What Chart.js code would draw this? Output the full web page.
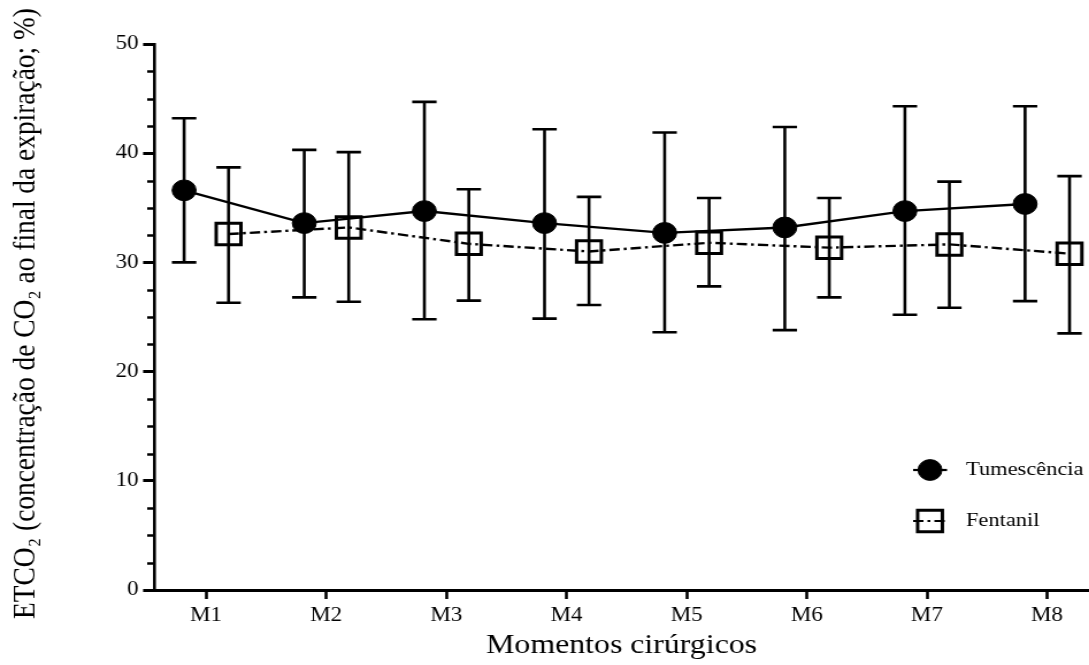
<!DOCTYPE html>
<html>
<head>
<meta charset="utf-8">
<title>ETCO2 - Momentos cirúrgicos</title>
<script src="https://cdn.jsdelivr.net/npm/chart.js@4.4.1/dist/chart.umd.min.js"></script>
<style>
  html, body { margin: 0; padding: 0; background: #fff; overflow: hidden; }
  /* the original figure is a little wider than tall in its lettering, so the drawing is stretched sideways */
  canvas { display: block; transform: scaleX(1.15); transform-origin: 0 0; }
</style>
</head>
<body>
<canvas id="chart" width="947" height="665"></canvas>
<script>
const categories = ['M1', 'M2', 'M3', 'M4', 'M5', 'M6', 'M7', 'M8'];

const tumMean = [36.6, 33.6, 34.7, 33.6, 32.7, 33.2, 34.7, 35.35];
const tumHigh = [43.2, 40.3, 44.7, 42.2, 41.9, 42.4, 44.3, 44.3];
const tumLow = [30.0, 26.8, 24.8, 24.85, 23.6, 23.8, 25.2, 26.45];

const fenMean = [32.6, 33.2, 31.7, 31.0, 31.8, 31.35, 31.65, 30.8];
const fenHigh = [38.7, 40.1, 36.7, 36.0, 35.9, 35.9, 37.4, 37.9];
const fenLow = [26.3, 26.4, 26.5, 26.1, 27.8, 26.8, 25.85, 23.5];

const yTicks = [0, 10, 20, 30, 40, 50];
const yTitle = 'ETCO₂ (concentração de CO₂ ao final da expiração; %)';

const FONT = "'Liberation Serif', 'Times New Roman', serif";
// the two groups sit a little left / right of each moment
const SHIFT_T = -0.183;
const SHIFT_F = 0.187;

Chart.defaults.color = '#000';
Chart.defaults.font.family = FONT;

// vertical error bars with caps
const errorBars = {
  id: 'errorBars',
  beforeDatasetsDraw(chart) {
    const ctx = chart.ctx;
    const y = chart.scales.y;
    ctx.save();
    ctx.strokeStyle = '#000';
    ctx.lineWidth = 2.6;
    chart.data.datasets.forEach((ds, di) => {
      chart.getDatasetMeta(di).data.forEach((pt, i) => {
        const top = y.getPixelForValue(ds.high[i]);
        const bot = y.getPixelForValue(ds.low[i]);
        ctx.beginPath();
        ctx.moveTo(pt.x, top); ctx.lineTo(pt.x, bot);
        ctx.moveTo(pt.x - 10.6, top); ctx.lineTo(pt.x + 10.6, top);
        ctx.moveTo(pt.x - 10.6, bot); ctx.lineTo(pt.x + 10.6, bot);
        ctx.stroke();
      });
    });
    ctx.restore();
  }
};

// small ticks between the labelled ones + the rotated y title
const yExtras = {
  id: 'yExtras',
  afterDraw(chart) {
    const ctx = chart.ctx;
    const y = chart.scales.y;
    const x0 = chart.chartArea.left;
    ctx.save();
    ctx.strokeStyle = '#000';
    ctx.lineWidth = 2.5;
    ctx.beginPath();
    for (let v = 2.5; v < 50; v += 2.5) {
      if (v % 10 === 0) continue;
      const py = Math.round(y.getPixelForValue(v)) + 0.5;
      ctx.moveTo(x0 - 6, py);
      ctx.lineTo(x0, py);
    }
    ctx.stroke();

    ctx.translate(22.6, 313.5);
    ctx.rotate(-Math.PI / 2);
    ctx.fillStyle = '#000';
    ctx.font = '27.4px ' + FONT;
    ctx.textAlign = 'center';
    ctx.textBaseline = 'middle';
    ctx.fillText(yTitle, 0, 0);
    ctx.restore();
  }
};

// legend with line + marker, bottom right inside the plot
const sideLegend = {
  id: 'sideLegend',
  afterDraw(chart) {
    const ctx = chart.ctx;
    const rows = [470, 521];
    ctx.save();
    chart.data.datasets.forEach((ds, i) => {
      const yy = rows[i];
      ctx.strokeStyle = '#000';
      ctx.lineWidth = 2.2;
      ctx.setLineDash(ds.borderDash || []);
      ctx.beginPath();
      ctx.moveTo(794, yy);
      ctx.lineTo(823.5, yy);
      ctx.stroke();
      ctx.setLineDash([]);
      ctx.fillStyle = ds.pointBackgroundColor;
      ctx.lineWidth = ds.pointBorderWidth;
      Chart.helpers.drawPoint(ctx, {
        pointStyle: ds.pointStyle,
        radius: ds.pointRadius,
        borderWidth: ds.pointBorderWidth,
        rotation: 0
      }, 808.7, yy);
      ctx.fillStyle = '#000';
      ctx.font = '19.5px ' + FONT;
      ctx.textBaseline = 'middle';
      ctx.textAlign = 'left';
      ctx.fillText(ds.label, 840, yy);
    });
    ctx.restore();
  }
};

new Chart(document.getElementById('chart'), {
  type: 'line',
  data: {
    datasets: [
      {
        label: 'Tumescência',
        data: tumMean.map((v, i) => ({ x: i + 1 + SHIFT_T, y: v })),
        high: tumHigh,
        low: tumLow,
        borderColor: '#000',
        borderWidth: 2.4,
        pointStyle: 'circle',
        pointRadius: 10.4,
        pointBorderWidth: 1,
        pointBackgroundColor: '#000',
        pointBorderColor: '#000',
        tension: 0
      },
      {
        label: 'Fentanil',
        data: fenMean.map((v, i) => ({ x: i + 1 + SHIFT_F, y: v })),
        high: fenHigh,
        low: fenLow,
        borderColor: '#000',
        borderWidth: 2.4,
        borderDash: [9, 3.5, 2.5, 3.5],
        pointStyle: 'rect',
        pointRadius: 15.2,
        pointBorderWidth: 3,
        pointBackgroundColor: 'rgba(0,0,0,0)',
        pointBorderColor: '#000',
        tension: 0
      }
    ]
  },
  options: {
    responsive: false,
    animation: false,
    layout: { autoPadding: false, padding: { top: 44, right: 0, left: 0, bottom: 0 } },
    plugins: {
      legend: { display: false },
      tooltip: { enabled: false }
    },
    scales: {
      x: {
        type: 'linear',
        min: 0.5672,
        max: 8.3496,
        afterFit(scale) {
          scale.height = 75;
          scale.paddingLeft = 0;
          scale.paddingRight = 0;
        },
        afterBuildTicks(scale) {
          scale.ticks = categories.map((c, i) => ({ value: i + 1 }));
        },
        ticks: {
          font: { size: 20 },
          padding: 5,
          maxRotation: 0,
          callback: v => categories[v - 1]
        },
        grid: {
          drawOnChartArea: false,
          tickLength: 9,
          tickWidth: 2.6,
          tickColor: '#000'
        },
        border: { color: '#000', width: 3 },
        title: {
          display: true,
          text: 'Momentos cirúrgicos',
          font: { size: 27.7, lineHeight: 1 },
          padding: { top: 0, bottom: 5 }
        }
      },
      y: {
        min: 0,
        max: 50,
        afterFit(scale) { scale.width = 134; },
        afterBuildTicks(scale) {
          scale.ticks = yTicks.map(v => ({ value: v }));
        },
        ticks: {
          font: { size: 20 },
          padding: 4
        },
        grid: {
          drawOnChartArea: false,
          tickLength: 9.6,
          tickWidth: 3,
          tickColor: '#000'
        },
        border: { color: '#000', width: 2.6 }
      }
    }
  },
  plugins: [errorBars, yExtras, sideLegend]
});
</script>
</body>
</html>
